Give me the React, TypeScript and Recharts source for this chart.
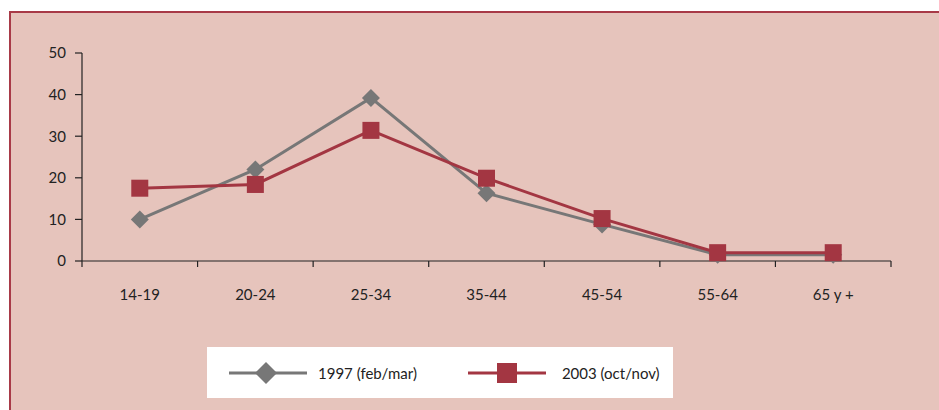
import { Line, LineChart, XAxis, YAxis } from "recharts"

const AGES = ["14-19", "20-24", "25-34", "35-44", "45-54", "55-64", "65 y +"]
const S1997 = [10, 22, 39.2, 16.3, 8.8, 1.5, 1.5]
const S2003 = [17.5, 18.4, 31.4, 19.9, 10.2, 2, 2]
const Y_TICKS = [0, 10, 20, 30, 40, 50]
const X_BOUNDS = [0, 1, 2, 3, 4, 5, 6, 7]

const GREY = "#777777"
const RED = "#a33642"
const FONT = "Lato, 'Open Sans', sans-serif"

const data = AGES.map((age, i) => ({ age, pos: i + 0.5, y1997: S1997[i], y2003: S2003[i] }))

function Diamond({ cx, cy, size = 9 }: { cx?: number; cy?: number; size?: number }) {
  if (cx == null || cy == null) return null
  const r = size
  return <polygon points={`${cx},${cy - r} ${cx + r},${cy} ${cx},${cy + r} ${cx - r},${cy}`} fill={GREY} />
}

function Square({ cx, cy, size = 8.5 }: { cx?: number; cy?: number; size?: number }) {
  if (cx == null || cy == null) return null
  const r = size
  return <rect x={cx - r} y={cy - r} width={r * 2} height={r * 2} fill={RED} />
}

function LegendBox() {
  return (
    <div
      style={{
        position: "absolute",
        left: 207,
        top: 347,
        background: "#fff",
        width: 466,
        height: 51,
        display: "flex",
        alignItems: "center",
        fontFamily: FONT,
        fontSize: 15,
        color: "#222",
      }}
    >
      <svg width={100} height={30} style={{ marginLeft: 22 }}>
        <line x1={0} y1={15} x2={78} y2={15} stroke={GREY} strokeWidth={3} />
        <Diamond cx={37} cy={15} size={11} />
      </svg>
      <span style={{ marginLeft: -11 }}>1997 (feb/mar)</span>
      <svg width={100} height={30} style={{ marginLeft: 51 }}>
        <line x1={0} y1={15} x2={78} y2={15} stroke={RED} strokeWidth={3} />
        <Square cx={39} cy={15} size={10} />
      </svg>
      <span style={{ marginLeft: -6 }}>2003 (oct/nov)</span>
    </div>
  )
}

export default function App() {
  return (
    <div style={{ position: "fixed", left: 0, top: 0, width: 939, height: 410, background: "#fff", overflow: "hidden" }}>
      <div
        style={{
          position: "absolute",
          left: 9,
          top: 11,
          width: 960,
          height: 430,
          background: "#e6c4bc",
          borderLeft: "2px solid #a83a47",
          borderTop: "2px solid #a83a47",
        }}
      />
      <div style={{ position: "absolute", left: 0, top: 0 }}>
        <LineChart width={939} height={410} data={data} margin={{ top: 53, right: 48, left: 0, bottom: 0 }}>
          <XAxis
            xAxisId="bounds"
            dataKey="pos"
            type="number"
            domain={[0, 7]}
            ticks={X_BOUNDS}
            tickFormatter={() => ""}
            tickSize={6}
            height={10}
            axisLine={{ stroke: "#222", strokeWidth: 1.2 }}
            tickLine={{ stroke: "#222", strokeWidth: 1.2 }}
          />
          <XAxis
            xAxisId="labels"
            dataKey="age"
            type="category"
            scale="band"
            axisLine={false}
            tickLine={false}
            tickSize={0}
            tickMargin={18}
            height={139}
            interval={0}
            tick={{ fill: "#222", fontSize: 15, fontFamily: FONT }}
          />
          <YAxis
            domain={[0, 50]}
            ticks={Y_TICKS}
            width={82}
            tickSize={7}
            tickMargin={9}
            interval={0}
            axisLine={{ stroke: "#222", strokeWidth: 1.2 }}
            tickLine={{ stroke: "#222", strokeWidth: 1.2 }}
            tick={{ fill: "#222", fontSize: 15, fontFamily: FONT }}
          />
          <Line
            xAxisId="bounds"
            dataKey="y1997"
            name="1997 (feb/mar)"
            stroke={GREY}
            strokeWidth={3}
            dot={(p: any) => <Diamond key={`d${p.index}`} cx={p.cx} cy={p.cy} />}
            activeDot={false}
            isAnimationActive={false}
          />
          <Line
            xAxisId="bounds"
            dataKey="y2003"
            name="2003 (oct/nov)"
            stroke={RED}
            strokeWidth={3}
            dot={(p: any) => <Square key={`s${p.index}`} cx={p.cx} cy={p.cy} />}
            activeDot={false}
            isAnimationActive={false}
          />
        </LineChart>
      </div>
      <LegendBox />
    </div>
  )
}
